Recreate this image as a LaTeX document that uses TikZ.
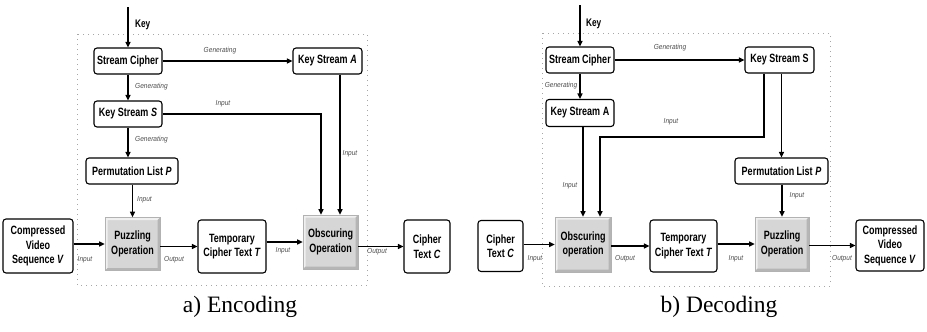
\documentclass[tikz,border=0pt]{standalone}
\usepackage{fontspec}
\setmainfont{Liberation Serif}
\newfontfamily\boxfont{Liberation Sans}[FakeStretch=0.75]
\newfontfamily\lblfont{Liberation Sans}[FakeStretch=0.9]
\usetikzlibrary{arrows.meta,calc}

\tikzset{
  conn/.style={line width=1.6pt,-{Triangle[length=5.5pt,width=5pt]}},
  databox/.style={draw=black,line width=1.1pt,rounded corners=3pt,fill=white,
    inner sep=0pt,align=center,font=\boxfont\bfseries\fontsize{12}{14.5}\selectfont},
  opbox/.style={draw=gray!60,line width=0.6pt,fill=gray!32,inner sep=0pt,align=center,
    font=\boxfont\bfseries\fontsize{12}{14.5}\selectfont,
    path picture={
      \fill[gray!12] (path picture bounding box.north west) -- (path picture bounding box.north east)
        -- ([xshift=-2.5pt,yshift=-2.5pt]path picture bounding box.north east)
        -- ([xshift=2.5pt,yshift=-2.5pt]path picture bounding box.north west)
        -- ([xshift=2.5pt,yshift=2.5pt]path picture bounding box.south west)
        -- (path picture bounding box.south west) -- cycle;
      \fill[gray!58] (path picture bounding box.south east) -- (path picture bounding box.north east)
        -- ([xshift=-2.5pt,yshift=-2.5pt]path picture bounding box.north east)
        -- ([xshift=-2.5pt,yshift=2.5pt]path picture bounding box.south east)
        -- ([xshift=2.5pt,yshift=2.5pt]path picture bounding box.south west)
        -- (path picture bounding box.south west) -- cycle;
    }},
  lbl/.style={inner sep=0pt,text=black!70,font=\lblfont\itshape\fontsize{7.3}{8}\selectfont},
  keylbl/.style={inner sep=0pt,font=\boxfont\bfseries\fontsize{11}{12}\selectfont},
  frame/.style={draw=gray!70,line width=0.7pt,dash pattern=on 0.7pt off 4.3pt},
  caption/.style={inner sep=0pt,font=\fontsize{23.5}{26}\selectfont}
}

\begin{document}
\begin{tikzpicture}[x=1pt,y=-1pt]
\useasboundingbox (0,0) rectangle (927,332);

% ---------------- a) Encoding ----------------
\draw[frame] (77,34) rectangle (367,285);

\node[databox,minimum width=68pt,minimum height=26pt] (sc) at (128,61) {Stream Cipher};
\node[databox,minimum width=69pt,minimum height=26pt] (ksA) at (327.5,61) {Key Stream \textit{A}};
\node[databox,minimum width=68pt,minimum height=26pt] (ksS) at (128,114) {Key Stream \textit{S}};
\node[databox,minimum width=92pt,minimum height=26pt] (perm) at (132,171) {Permutation List \textit{P}};
\node[opbox,minimum width=55pt,minimum height=53pt] (puz) at (132.5,244) {Puzzling\\Operation};
\node[databox,minimum width=70pt,minimum height=54pt] (cvs) at (38,246) {Compressed\\Video\\Sequence \textit{V}};
\node[databox,minimum width=68pt,minimum height=53pt] (tct) at (232,246.5) {Temporary\\Cipher Text \textit{T}};
\node[opbox,minimum width=55pt,minimum height=54pt] (obs) at (330.5,242) {Obscuring\\Operation};
\node[databox,minimum width=46pt,minimum height=53pt] (ctc) at (427,246.5) {Cipher\\Text \textit{C}};

\coordinate (keyA) at (128,7);
\coordinate (obsL) at ([xshift=-9.5pt]obs.north);
\coordinate (obsR) at ([xshift=9.5pt]obs.north);

\draw[conn] (keyA) -- (sc.north);
\draw[conn] (sc.east) -- (ksA.west);
\draw[conn] (sc.south) -- (ksS.north);
\draw[conn] (ksS.south) -- (ksS.south |- perm.north);
\draw[conn] (perm.south -| puz.north) -- (puz.north);
\draw[conn] (ksS.east) -| (obsL);
\draw[conn] (ksA.south -| obsR) -- (obsR);
\draw[conn] (cvs.east |- puz.west) -- (puz.west);
\draw[conn] (puz.east |- tct.west) -- (tct.west);
\draw[conn] (tct.east |- obs.west) -- (obs.west);
\draw[conn] (obs.east |- ctc.west) -- (ctc.west);

\node[keylbl,anchor=west] (lkeyA) at (135,25) {Key};
\node[lbl] (lgen1) at (220,51) {Generating};
\node[lbl,anchor=west] (lgen2) at (135,87) {Generating};
\node[lbl,anchor=west] (lgen3) at (135,140) {Generating};
\node[lbl] (lin1) at (223,104) {Input};
\node[lbl] (lin2) at (350,154) {Input};
\node[lbl,anchor=west] (lin3) at (137,200) {Input};
\node[lbl] (lin4) at (85,260) {Input};
\node[lbl] (lout1) at (174,260) {Output};
\node[lbl] (lin5) at (283,251) {Input};
\node[lbl] (lout2) at (377,252) {Output};

\node[caption] (capA) at (240,307) {a) Encoding};

% ---------------- b) Decoding ----------------
\draw[frame] (542,33) rectangle (830,286);

\node[databox,minimum width=68pt,minimum height=26pt] (sc2) at (580,60) {Stream Cipher};
\node[databox,minimum width=69pt,minimum height=26pt] (ksS2) at (779.5,60) {Key Stream S};
\node[databox,minimum width=68pt,minimum height=27pt] (ksA2) at (580,113) {Key Stream A};
\node[databox,minimum width=93pt,minimum height=26pt] (perm2) at (781.5,171) {Permutation List \textit{P}};
\node[opbox,minimum width=56pt,minimum height=55pt] (obs2) at (583,244.5) {Obscuring\\operation};
\node[databox,minimum width=45pt,minimum height=51pt] (ctc2) at (500.5,246) {Cipher\\Text \textit{C}};
\node[databox,minimum width=67pt,minimum height=52pt] (tct2) at (683.5,246) {Temporary\\Cipher Text \textit{T}};
\node[opbox,minimum width=54pt,minimum height=54pt] (puz2) at (782,244) {Puzzling\\Operation};
\node[databox,minimum width=68pt,minimum height=51pt] (cvs2) at (890,245.5) {Compressed\\Video\\Sequence \textit{V}};

\coordinate (keyB) at (580,5);
\coordinate (obsL2) at (583,0 |- obs2.north);
\coordinate (obsR2) at (600,0 |- obs2.north);
\coordinate (ksSout) at (764,0 |- ksS2.south);
\coordinate (ksSbend) at (764,137);

\draw[conn] (keyB) -- (sc2.north);
\draw[conn] (sc2.east) -- (ksS2.west);
\draw[conn] (sc2.south) -- (ksA2.north);
\draw[conn] (ksA2.south -| obsL2) -- (obsL2);
\draw[conn] (ksSout) -- (ksSbend) -| (obsR2);
\draw[conn] (ksS2.south -| perm2.north) -- (perm2.north);
\draw[conn] (perm2.south -| puz2.north) -- (puz2.north);
\draw[conn] (ctc2.east |- obs2.west) -- (obs2.west);
\draw[conn] (obs2.east |- tct2.west) -- (tct2.west);
\draw[conn] (tct2.east |- puz2.west) -- (puz2.west);
\draw[conn] (puz2.east |- cvs2.west) -- (cvs2.west);

\node[keylbl,anchor=west] (lkeyB) at (586,24) {Key};
\node[lbl] (lgen4) at (670,48) {Generating};
\node[lbl] (lgen5) at (561,86) {Generating};
\node[lbl] (lin6) at (671,122) {Input};
\node[lbl] (lin7) at (570,186) {Input};
\node[lbl] (lin8) at (797,196) {Input};
\node[lbl] (lin9) at (535,259) {Input};
\node[lbl] (lout3) at (625,259) {Output};
\node[lbl] (lin10) at (736,259) {Input};
\node[lbl] (lout4) at (842,259) {Output};

\node[caption] (capB) at (719,307) {b) Decoding};
\end{tikzpicture}
\end{document}
